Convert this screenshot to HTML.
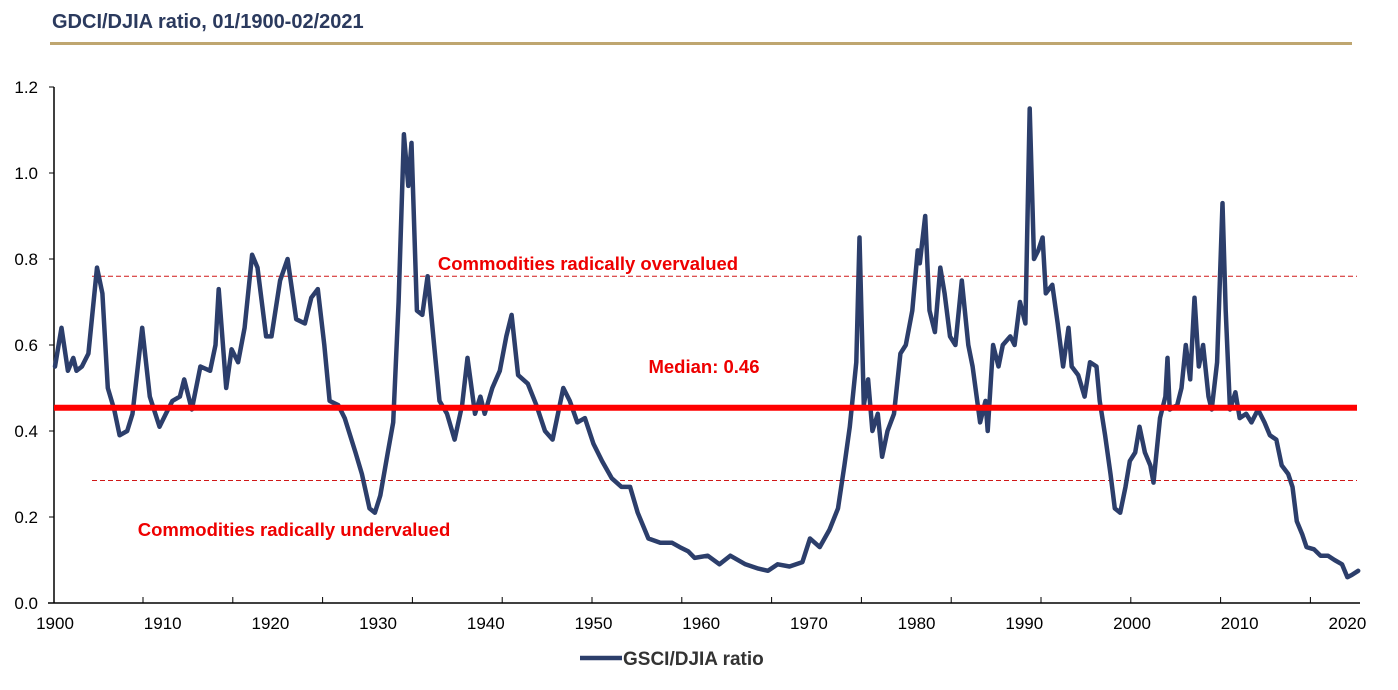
<!DOCTYPE html>
<html><head><meta charset="utf-8"><style>
body{margin:0;background:#fff;}
svg{display:block;font-family:"Liberation Sans",Arial,sans-serif;}
</style></head><body>
<svg id="chart" width="1398" height="690" viewBox="0 0 1398 690">
<text x="52" y="28" font-size="20" font-weight="bold" fill="#2b3a5e">GDCI/DJIA ratio, 01/1900-02/2021</text>
<rect x="50" y="42" width="1302" height="3" fill="#bfa670"/>
<g id="axes"></g>
<g id="marks"></g>
<line x1="580" y1="658" x2="622" y2="658" stroke="#2c3e6b" stroke-width="4.5"/>
<text x="623" y="665" font-size="19" font-weight="bold" fill="#333">GSCI/DJIA ratio</text>
</svg>
<script>
const years=[1900.0,1900.6,1901.2,1901.7,1902.0,1902.5,1903.1,1903.9,1904.4,1904.9,1905.5,1906.0,1906.7,1907.2,1908.1,1908.8,1909.7,1910.3,1910.9,1911.6,1912.0,1912.7,1913.5,1914.4,1914.9,1915.2,1915.9,1916.4,1917.0,1917.6,1918.3,1918.8,1919.6,1920.1,1920.9,1921.6,1922.4,1923.2,1923.8,1924.4,1925.0,1925.5,1926.3,1926.9,1927.9,1928.5,1929.2,1929.7,1930.2,1930.9,1931.4,1931.9,1932.4,1932.8,1933.1,1933.6,1934.1,1934.6,1935.2,1935.7,1936.4,1937.1,1937.8,1938.3,1939.0,1939.5,1939.9,1940.6,1941.3,1941.9,1942.4,1943.0,1943.9,1944.7,1945.5,1946.2,1947.2,1947.8,1948.5,1949.2,1950.0,1950.8,1951.7,1952.6,1953.4,1954.1,1955.1,1956.2,1957.3,1958.0,1958.8,1959.4,1960.6,1961.7,1962.7,1964.1,1965.3,1966.2,1967.1,1968.2,1969.4,1970.1,1971.0,1971.9,1972.7,1973.3,1973.8,1974.4,1974.7,1975.1,1975.5,1975.9,1976.4,1976.8,1977.3,1977.9,1978.5,1979.0,1979.6,1980.1,1980.3,1980.8,1981.2,1981.7,1982.2,1982.6,1983.1,1983.6,1984.2,1984.8,1985.2,1985.9,1986.4,1986.6,1987.1,1987.6,1988.0,1988.7,1989.1,1989.6,1990.1,1990.5,1990.9,1991.3,1991.7,1992.0,1992.6,1993.1,1993.6,1994.1,1994.4,1995.0,1995.6,1996.1,1996.7,1997.0,1997.5,1998.0,1998.4,1998.9,1999.4,1999.8,2000.3,2000.7,2001.2,2001.7,2002.0,2002.6,2003.1,2003.3,2003.5,2004.2,2004.6,2005.0,2005.4,2005.8,2006.2,2006.6,2007.1,2007.4,2007.9,2008.4,2008.7,2009.1,2009.6,2010.0,2010.6,2011.1,2011.7,2012.3,2012.8,2013.4,2013.9,2014.5,2014.9,2015.3,2015.8,2016.2,2016.9,2017.5,2018.2,2018.8,2019.5,2020.0,2020.4,2021.0];
const ratios=[0.55,0.64,0.54,0.57,0.54,0.55,0.58,0.78,0.72,0.5,0.45,0.39,0.40,0.44,0.64,0.48,0.41,0.44,0.47,0.48,0.52,0.45,0.55,0.54,0.6,0.73,0.5,0.59,0.56,0.64,0.81,0.78,0.62,0.62,0.75,0.80,0.66,0.65,0.71,0.73,0.6,0.47,0.46,0.43,0.35,0.3,0.22,0.21,0.25,0.35,0.42,0.7,1.09,0.97,1.07,0.68,0.67,0.76,0.6,0.47,0.44,0.38,0.46,0.57,0.44,0.48,0.44,0.5,0.54,0.62,0.67,0.53,0.51,0.46,0.4,0.38,0.5,0.47,0.42,0.43,0.37,0.33,0.29,0.27,0.27,0.21,0.15,0.14,0.14,0.13,0.12,0.105,0.11,0.09,0.11,0.09,0.08,0.075,0.09,0.085,0.095,0.15,0.13,0.17,0.22,0.32,0.41,0.56,0.85,0.46,0.52,0.4,0.44,0.34,0.4,0.44,0.58,0.6,0.68,0.82,0.79,0.90,0.68,0.63,0.78,0.72,0.62,0.6,0.75,0.6,0.55,0.42,0.47,0.40,0.6,0.55,0.6,0.62,0.6,0.7,0.65,1.15,0.8,0.82,0.85,0.72,0.74,0.65,0.55,0.64,0.55,0.53,0.48,0.56,0.55,0.47,0.39,0.3,0.22,0.21,0.27,0.33,0.35,0.41,0.35,0.32,0.28,0.43,0.48,0.57,0.45,0.46,0.5,0.6,0.52,0.71,0.55,0.6,0.48,0.45,0.56,0.93,0.68,0.45,0.49,0.43,0.44,0.42,0.45,0.42,0.39,0.38,0.32,0.3,0.27,0.19,0.16,0.13,0.125,0.11,0.11,0.1,0.09,0.06,0.065,0.075];
const yTicks=[0,0.2,0.4,0.6,0.8,1.0,1.2];
const yTickLabels=["0.0","0.2","0.4","0.6","0.8","1.0","1.2"];
const xLabels=[1900,1910,1920,1930,1940,1950,1960,1970,1980,1990,2000,2010,2020];
const median=[0.454];
const bands=[0.76,0.285];

const X=y=>55+10.77*(y-1900);
const Y=v=>603-430*v;
const NS="http://www.w3.org/2000/svg";
const axes=document.getElementById('axes'), marks=document.getElementById('marks');
function mk(tag,attrs,parent,txt){const e=document.createElementNS(NS,tag);for(const k in attrs)e.setAttribute(k,attrs[k]);if(txt!==undefined)e.textContent=txt;parent.appendChild(e);return e;}

let e=mk('line',{x1:54,y1:87,x2:54,y2:603,stroke:'#000','stroke-width':1.5},axes);


e=mk('line',{x1:48,y1:603,x2:1360,y2:603,stroke:'#000','stroke-width':1.5},axes);


yTicks.forEach((v,i)=>{
  mk('line',{x1:49,y1:Y(v),x2:54,y2:Y(v),stroke:'#000','stroke-width':1},axes);
  const t=mk('text',{x:38,y:Y(v)+6,'font-size':17,'text-anchor':'end',fill:'#000'},axes,yTickLabels[i]);
  
  
});
for(let tx=143;tx<1360;tx+=89.8){mk('line',{x1:tx,y1:597,x2:tx,y2:603,stroke:'#000','stroke-width':1},axes);}
xLabels.forEach(yr=>{
  const t=mk('text',{x:X(yr),y:629,'font-size':17,'text-anchor':'middle',fill:'#000'},axes,String(yr));
  
  
});
bands.forEach(b=>{
  const l=mk('line',{x1:92,y1:Y(b),x2:1357,y2:Y(b),stroke:'#d01818','stroke-width':1,'stroke-dasharray':'5,3'},marks);
  
  
});
const pts=years.map((yr,i)=>X(yr).toFixed(1)+','+Y(ratios[i]).toFixed(1)).join(' ');
const pl=mk('polyline',{points:pts,fill:'none',stroke:'#2c3e6b','stroke-width':4.5,'stroke-linejoin':'round','stroke-linecap':'round'},marks);


const ml=mk('line',{x1:54,y1:Y(median[0]),x2:1357,y2:Y(median[0]),stroke:'#ff0000','stroke-width':6},marks);


const labs=[["Commodities radically overvalued",588,270,'overvalued-label'],["Median: 0.46",704,373,'median-label'],["Commodities radically undervalued",294,536,'undervalued-label']];
labs.forEach(a=>{
  const t=mk('text',{x:a[1],y:a[2],'font-size':18.5,'font-weight':'bold','text-anchor':'middle',fill:'#ee0000'},marks,a[0]);
  
  
});
</script>
</body></html>
